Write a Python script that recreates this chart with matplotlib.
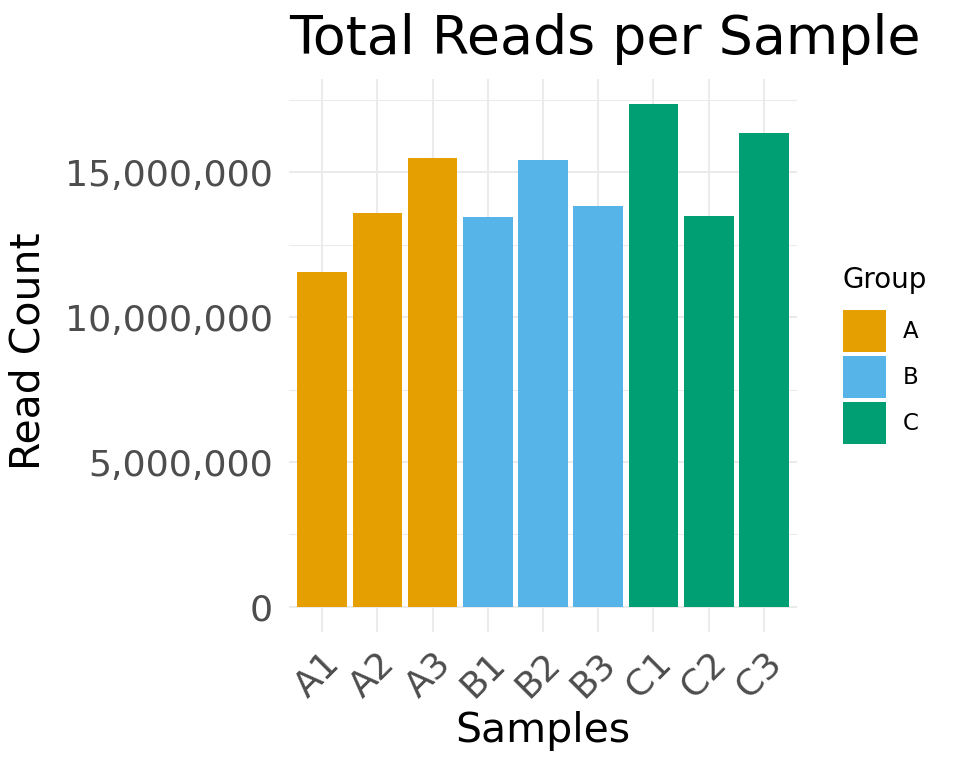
import matplotlib
matplotlib.use("Agg")
import matplotlib.pyplot as plt
from matplotlib.patches import Patch
from matplotlib.ticker import FuncFormatter, MultipleLocator

samples = ["A1", "A2", "A3", "B1", "B2", "B3", "C1", "C2", "C3"]
groups = ["A", "A", "A", "B", "B", "B", "C", "C", "C"]
read_counts = [11560000, 13600000, 15490000, 13460000, 15420000,
               13840000, 17360000, 13490000, 16360000]
group_names = ["A", "B", "C"]
group_colors = {"A": "#E69F00", "B": "#56B4E9", "C": "#009E73"}

plt.rcParams['font.family'] = ['DejaVu Sans']

fig = plt.figure(figsize=(9.6, 7.68), dpi=100)
ax = fig.add_axes([289/960, 1-632/768, (797-289)/960, (632-79)/768])

x = list(range(len(samples)))
ax.bar(x, read_counts, width=0.9, color=[group_colors[g] for g in groups], zorder=3)

ymax = max(read_counts)
ax.set_ylim(-0.05*ymax, 1.05*ymax)
ax.set_xlim(-0.6, len(samples) - 0.4)

ax.yaxis.set_major_locator(MultipleLocator(5000000))
ax.yaxis.set_minor_locator(MultipleLocator(2500000))
ax.yaxis.set_major_formatter(FuncFormatter(lambda v, p: f"{int(round(v)):,}"))
ax.set_xticks(x)
ax.set_xticklabels(samples, rotation=45, ha='right', va='top', rotation_mode='anchor')

ax.grid(True, which='major', axis='both', color='#EBEBEB', linewidth=1.5, zorder=0)
ax.grid(True, which='minor', axis='y', color='#EBEBEB', linewidth=0.75, zorder=0)
ax.set_axisbelow(True)
for s in ax.spines.values():
    s.set_visible(False)
ax.tick_params(axis='both', which='both', length=0)
ax.tick_params(axis='y', labelsize=26.2, labelcolor='#4D4D4D', pad=11.5)
ax.tick_params(axis='x', labelsize=26, labelcolor='#4D4D4D', pad=10)

fig.text(289/960, 1-54/768, "Total Reads per Sample", fontsize=38.7, ha='left', va='baseline', color='black')
fig.text(29/960, 1-351/768, "Read Count", fontsize=29.5, rotation=90, ha='center', va='center', color='black')
fig.text(543/960, 1-742/768, "Samples", fontsize=29.5, ha='center', va='baseline', color='black')

fig.text(843/960, 1-288/768, "Group", fontsize=20, ha='left', va='baseline', color='black')
handles = [Patch(facecolor=group_colors[g], edgecolor='none', label=g) for g in group_names]
leg = fig.legend(handles=handles, loc='upper left',
                 bbox_to_anchor=(843/960, 1-310/768), frameon=False,
                 fontsize=16.5, handlelength=1.88, handleheight=2.44,
                 labelspacing=0.17, handletextpad=0.74, borderpad=0, borderaxespad=0)

fig.savefig("out.png", dpi=100, facecolor='white')
